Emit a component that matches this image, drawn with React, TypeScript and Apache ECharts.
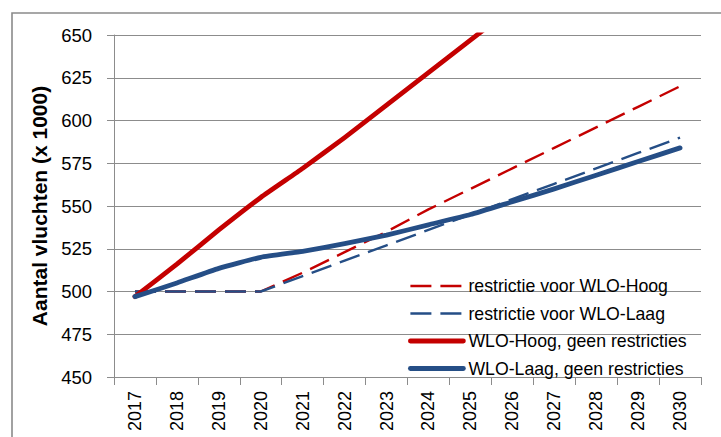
import React, { useEffect, useRef } from "react";
import * as echarts from "echarts";

const years = ["2017", "2018", "2019", "2020", "2021", "2022", "2023", "2024", "2025", "2026", "2027", "2028", "2029", "2030"];
const restrictieHoog = [500, 500, 500, 500, 511, 523, 535, 548, 560, 572, 584, 596, 608, 620];
const restrictieLaag = [500, 500, 500, 500, 509, 518, 527, 536, 545, 554, 563, 572, 581, 590];
const hoogGeen = [497, 516, 536, 555, 572, 590, 609, 628, 647, 666, null, null, null, null];
const laagGeen = [497, 505, 513.5, 520, 523.5, 528, 533, 539, 545, 552.5, 560, 568, 576, 584];

const RED = "#C40000";
const BLUE = "#254E86";
const GRID = "#8C8C8C";
const FONT = "'Liberation Sans', Arial, sans-serif";

export default function App() {
  const ref = useRef<HTMLDivElement>(null);
  useEffect(() => {
    const chart = echarts.init(ref.current!, null, { renderer: "svg" });
    chart.setOption({
      animation: false,
      textStyle: { fontFamily: FONT },
      grid: { left: 114, top: 35, right: 20, bottom: 60, containLabel: false },
      graphic: [
        {
          type: "rect",
          shape: { x: 12, y: 13, width: 900, height: 600 },
          style: { fill: "none", stroke: "#8A8A8A", lineWidth: 1.6 },
          silent: true,
          z: -1,
        },
      ],
      legend: {
        orient: "vertical",
        left: 408,
        top: 277,
        padding: 0,
        itemWidth: 53,
        itemHeight: 14,
        itemGap: 9.5,
        textStyle: { fontFamily: FONT, fontSize: 17.7, color: "#000", lineHeight: 17.5, padding: [0, 0, 0, 0] },
        itemStyle: { opacity: 0, borderWidth: 0 },
        lineStyle: { width: "inherit" },
        data: [
          "restrictie voor WLO-Hoog",
          "restrictie voor WLO-Laag",
          "WLO-Hoog, geen restricties",
          "WLO-Laag, geen restricties",
        ],
      },
      xAxis: {
        type: "category",
        data: years,
        boundaryGap: true,
        axisLine: { lineStyle: { color: GRID, width: 1 } },
        axisTick: { show: true, length: 8, lineStyle: { color: GRID } },
        axisLabel: { rotate: 90, margin: 14, fontSize: 18, color: "#000", fontFamily: FONT },
        splitLine: { show: false },
      },
      yAxis: {
        type: "value",
        min: 450,
        max: 650,
        interval: 25,
        name: "Aantal vluchten (x 1000)",
        nameLocation: "middle",
        nameGap: 57,
        nameTextStyle: { fontSize: 21, fontWeight: "bold", color: "#000", fontFamily: FONT },
        axisLine: { show: true, lineStyle: { color: GRID, width: 1 } },
        axisTick: { show: true, length: 7, lineStyle: { color: GRID } },
        axisLabel: { margin: 22, fontSize: 18.5, color: "#000", fontFamily: FONT },
        splitLine: { show: true, lineStyle: { color: GRID, width: 1 } },
      },
      series: [
        {
          name: "restrictie voor WLO-Hoog",
          type: "line",
          data: restrictieHoog,
          symbol: "none",
          lineStyle: { color: RED, width: 2.4, type: [21, 9] },
          itemStyle: { color: RED },
          z: 2,
        },
        {
          name: "restrictie voor WLO-Laag",
          type: "line",
          data: restrictieLaag,
          symbol: "none",
          lineStyle: { color: BLUE, width: 2.4, type: [21, 9] },
          itemStyle: { color: BLUE },
          z: 3,
        },
        {
          name: "WLO-Hoog, geen restricties",
          type: "line",
          data: hoogGeen,
          symbol: "none",
          smooth: 0.15,
          lineStyle: { color: RED, width: 4.8, cap: "round", join: "round" },
          itemStyle: { color: RED },
          z: 4,
        },
        {
          name: "WLO-Laag, geen restricties",
          type: "line",
          data: laagGeen,
          symbol: "none",
          smooth: 0.15,
          lineStyle: { color: BLUE, width: 4.8, cap: "round", join: "round" },
          itemStyle: { color: BLUE },
          z: 5,
        },
      ],
    });
    return () => chart.dispose();
  }, []);
  return (
    <div
      ref={ref}
      style={{ position: "absolute", left: 0, top: 0, width: 721, height: 437, background: "#fff" }}
    />
  );
}
